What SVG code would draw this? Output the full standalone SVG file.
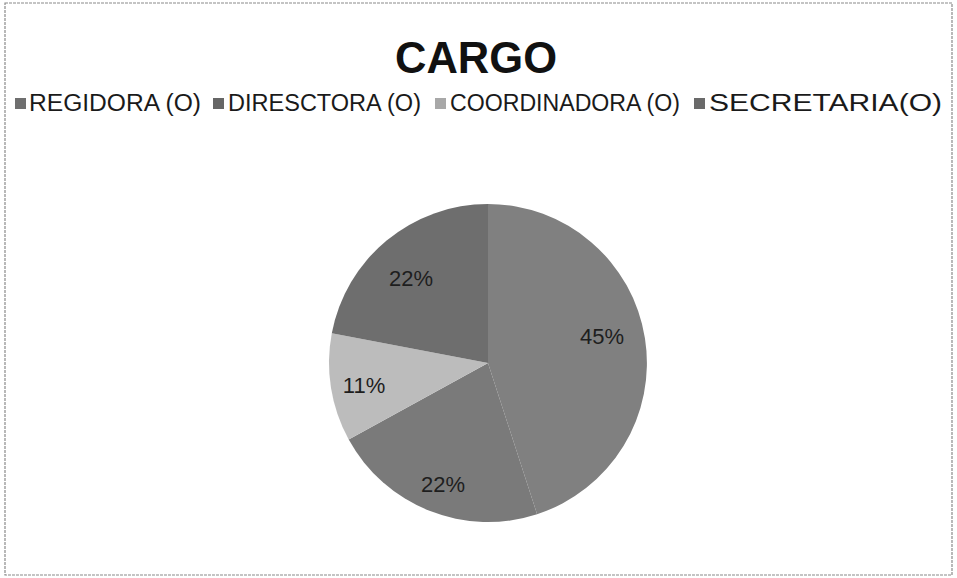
<svg xmlns="http://www.w3.org/2000/svg" width="957" height="578" viewBox="0 0 957 578">
<style>
.lbl{font-family:"Liberation Sans",Arial,sans-serif;font-size:22px;fill:#1e1e1e;text-anchor:middle}
.leg{font-family:"Liberation Sans",Arial,sans-serif;font-size:23px;fill:#1a1a1a}
.title{font-family:"Liberation Sans",Arial,sans-serif;font-size:45px;font-weight:bold;fill:#111;text-anchor:middle}
</style>
<rect x="0" y="0" width="957" height="578" fill="#ffffff"/>
<rect x="5" y="3" width="947" height="572" fill="none" stroke="#8a8a8a" stroke-width="1.2" stroke-dasharray="3 1"/>
<g id="title"><text class="title" x="476" y="73" textLength="162" lengthAdjust="spacingAndGlyphs">CARGO</text></g>
<g id="legend">
<rect x="15" y="98" width="11" height="11" fill="#6f6f6f"/>
<text class="leg" x="29" y="111" textLength="172" lengthAdjust="spacingAndGlyphs">REGIDORA (O)</text>
<rect x="213" y="98" width="11" height="11" fill="#666"/>
<text class="leg" x="228" y="111" textLength="193" lengthAdjust="spacingAndGlyphs">DIRESCTORA (O)</text>
<rect x="435" y="98" width="11" height="11" fill="#a8a8a8"/>
<text class="leg" x="450" y="111" textLength="230" lengthAdjust="spacingAndGlyphs">COORDINADORA (O)</text>
<rect x="694" y="98" width="11" height="11" fill="#6a6a6a"/>
<text class="leg" x="709" y="111" textLength="233" lengthAdjust="spacingAndGlyphs">SECRETARIA(O)</text>
</g>
<g id="pie">
<g id="regidora"><path d="M488,363 L488,204 A159,159 0 0 1 537.1,514.2 Z" fill="#808080"/></g>
<g id="directora"><path d="M488,363 L537.1,514.2 A159,159 0 0 1 348.7,439.6 Z" fill="#7a7a7a"/></g>
<g id="coordinadora"><path d="M488,363 L348.7,439.6 A159,159 0 0 1 331.8,333.2 Z" fill="#bcbcbc"/></g>
<g id="secretaria"><path d="M488,363 L331.8,333.2 A159,159 0 0 1 488,204 Z" fill="#6e6e6e"/></g>
</g>
<g id="labels">
<text class="lbl" x="411" y="286">22%</text>
<text class="lbl" x="602" y="344">45%</text>
<text class="lbl" x="364" y="393">11%</text>
<text class="lbl" x="443" y="492">22%</text>
</g>
</svg>
